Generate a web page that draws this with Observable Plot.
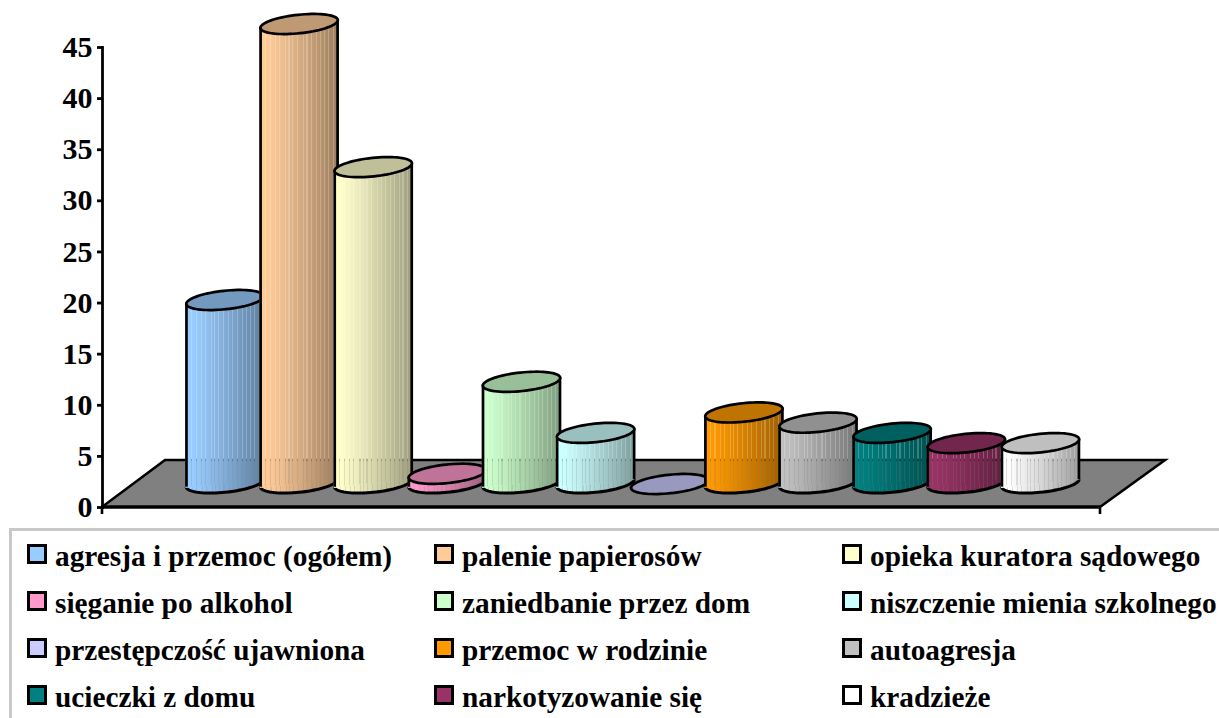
<!DOCTYPE html>
<html>
<head>
<meta charset="utf-8">
<script src="https://cdn.jsdelivr.net/npm/d3@7"></script>
<script src="https://cdn.jsdelivr.net/npm/@observablehq/plot@0.6"></script>
<style>
html,body{margin:0;padding:0;background:#fff;overflow:hidden;width:1219px;height:718px}
#chart{position:absolute;left:0;top:0}
#legend{position:absolute;left:9px;top:528px;width:1230px;height:210px;box-sizing:border-box;border:3px solid #c8c8c8;font:bold 29.3px "Liberation Serif",serif;color:#000}
.item{position:absolute;white-space:nowrap;line-height:30px;height:30px}
.sw{position:absolute;left:-28px;top:3px;width:14px;height:14px;border:3px solid #000;box-sizing:content-box}
</style>
</head>
<body>
<div id="chart"></div>
<div id="legend"></div>
<script>
const categories = ["agresja i przemoc (ogółem)","palenie papierosów","opieka kuratora sądowego","sięganie po alkohol","zaniedbanie przez dom","niszczenie mienia szkolnego","przestępczość ujawniona","przemoc w rodzinie","autoagresja","ucieczki z domu","narkotyzowanie się","kradzieże"];
const values = [18,45,31,1,10,5,0,7,6,5,4,4];
const colors = ["#99CCFF","#FFCC99","#FFFFCC","#FF99CC","#CCFFCC","#CCFFFF","#CCCCFF","#FF9900","#C0C0C0","#008080","#993366","#FFFFFF"];
const yTicks = [0,5,10,15,20,25,30,35,40,45];

const rows = categories.map((name,i)=>({name,value:values[i],color:colors[i],i}));
const streaks = [.07,.13,.2,.25,.33,.37,.42,.48,.55,.6,.66,.72,.77,.83,.88,.94];
const shade = (c,k)=>{const r=d3.rgb(c);return d3.rgb(r.r*k,r.g*k,r.b*k).formatHex();};
const depth = -23.5, tilt = 6*Math.PI/180, ratio = .238, rx = 38.9;
const edge = 38.5, edgeDy = 3.7, skew = -0.1, lw = 2.7;

function ellipsePoints(ctx,a,t0,t1,n){
  const b=a*ratio, c=Math.cos(tilt), s=Math.sin(tilt);
  for(let k=0;k<=n;k++){
    const t=t0+(t1-t0)*k/n, ex=a*Math.cos(t), ey=b*Math.sin(t);
    const px=ex*c+ey*s, py=-ex*s+ey*c;
    k?ctx.lineTo(px,py):ctx.moveTo(px,py);
  }
}
const ellipse = {draw(ctx,size){
  ellipsePoints(ctx,Math.sqrt(size/Math.PI),0,2*Math.PI,72);
  ctx.closePath();
}};
const lowerArc = {draw(ctx,size){
  const t0=Math.atan2(ratio*Math.sin(tilt),Math.cos(tilt));
  ellipsePoints(ctx,Math.sqrt(size/Math.PI),t0,t0+Math.PI,40);
}};

function defsMark(){
  const defs=d3.create("svg:defs");
  rows.forEach(r=>{
    const g=defs.append("linearGradient").attr("id","cyl"+r.i).attr("x1",0).attr("x2",1).attr("y1",0).attr("y2",0);
    const col=t=>shade(r.color,t<.08?1:1-.38*Math.pow((t-.08)/.92,1.15));
    const add=(t,o)=>g.append("stop").attr("offset",t).attr("stop-color",col(t)).attr("stop-opacity",o);
    add(0,1);
    streaks.forEach(s=>{add(s,1);add(s,.78);add(s+.014,.78);add(s+.014,1);});
    add(1,1);
  });
  return defs.node();
}

function floorMark(index,scales){
  const y0=scales.y(0), L=104, R=1100, dx=63, d=47;
  const g=d3.create("svg:g");
  g.append("path").attr("d",`M${L},${y0}L${L+dx-2},${y0-d}H${R+65}L${R},${y0}Z`)
    .attr("fill","#808080").attr("stroke","none");
  g.append("path").attr("d",`M${L-2},${y0}L${L+dx-2},${y0-d}H${R+65}L${R},${y0}`)
    .attr("fill","none").attr("stroke","#000").attr("stroke-width",2.6).attr("stroke-linejoin","miter");
  g.append("path").attr("d",`M${L-3},${y0}H${R+1}`).attr("stroke","#000").attr("stroke-width",3.6).attr("fill","none");
  g.append("path").attr("d",`M${L-2},${y0}v7M${R},${y0}v7`).attr("stroke","#000").attr("stroke-width",2.6).attr("fill","none");
  return g.node();
}

function skewBars(index,scales,vals,dims,ctx,next){
  const g=next(index,scales,vals,dims,ctx);
  d3.select(g).selectAll("rect").attr("transform",function(){
    const x=+this.getAttribute("x"),w=+this.getAttribute("width"),cx=x+w/2;
    return `matrix(1 ${skew} 0 1 0 ${-skew*cx})`;
  });
  return g;
}

const cylMarks = rows.flatMap(r=>{
  const row=[r], fill=`url(#cyl${r.i})`;
  return [
    Plot.dot(row,{x:"name",y:()=>0,r:rx,symbol:lowerArc,fill,stroke:"#000",strokeWidth:3.1,dy:depth-1}),
    Plot.barY(row,{x:"name",y:"value",fill,dy:depth,insetLeft:-2,insetRight:-2,insetBottom:-.5,render:skewBars}),
    Plot.ruleX(row,{x:"name",y1:()=>0,y2:"value",stroke:"#000",strokeWidth:lw,dx:-edge,dy:depth+edgeDy-.5}),
    Plot.ruleX(row,{x:"name",y1:()=>0,y2:"value",stroke:"#000",strokeWidth:lw,dx:edge,dy:depth-edgeDy-.5}),
    Plot.dot(row,{x:"name",y:"value",r:rx,symbol:ellipse,fill:shade(r.color,.75),stroke:"#000",strokeWidth:lw,dy:depth})
  ];
});

const chart = Plot.plot({
  width:1219,height:529,
  marginTop:47,marginBottom:22,marginLeft:102,marginRight:141,
  style:{background:"transparent",fontFamily:"'Liberation Serif',serif",fontSize:"30px",fontWeight:"bold",color:"#000",overflow:"visible"},
  x:{type:"band",domain:categories,range:[187.4,1077],padding:0,round:false,axis:null},
  y:{domain:[0,45],range:[507,47],axis:null},
  marks:[
    defsMark,
    floorMark,
    Plot.axisY({ticks:yTicks,anchor:"left",label:null,tickSize:5,tickPadding:5,strokeWidth:2.8,fontSize:30,fontWeight:"bold",fill:"#000",stroke:"#000",tickFormat:d=>String(d)}),
    Plot.frame({anchor:"left",stroke:"#000",strokeWidth:2.8}),
    ...cylMarks
  ]
});
document.getElementById("chart").appendChild(chart);

const legendCols=[43,450,858], legendTop=[10,57,104,151];
const legend=document.getElementById("legend");
rows.forEach((r,i)=>{
  const el=document.createElement("div");
  el.className="item";
  el.style.left=legendCols[i%3]+"px";
  el.style.top=legendTop[Math.floor(i/3)]+"px";
  const sw=document.createElement("span");
  sw.className="sw";sw.style.background=r.color;
  el.appendChild(sw);
  el.appendChild(document.createTextNode(r.name));
  legend.appendChild(el);
});
</script>
</body>
</html>
